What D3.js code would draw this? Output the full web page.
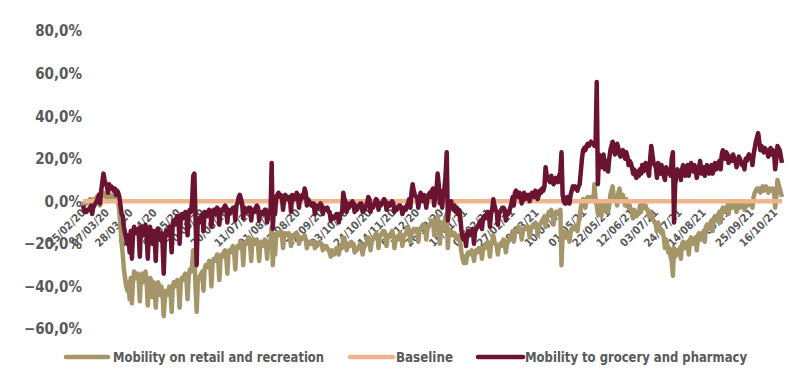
<!DOCTYPE html>
<html>
<head>
<meta charset="utf-8">
<script src="https://cdn.jsdelivr.net/npm/d3@7"></script>
<style>
html,body{margin:0;padding:0;background:#fff;}
svg{display:block;}
text{font-family:"DejaVu Sans Condensed","DejaVu Sans",sans-serif;font-weight:bold;fill:#595959;}
</style>
</head>
<body>
<svg id="chart" width="800" height="383"></svg>
<script>
const startDate = "2020-02-15";
const seriesNames = ["Mobility on retail and recreation", "Baseline", "Mobility to grocery and pharmacy"];
const seriesColors = ["#A59669", "#F0B48C", "#6A1432"];
const yTicks = [-60, -40, -20, 0, 20, 40, 60, 80];
const xTickLabels = ["15/02/20","07/03/20","28/03/20","18/04/20","09/05/20","30/05/20","20/06/20","11/07/20","01/08/20","22/08/20","12/09/20","03/10/20","24/10/20","14/11/20","05/12/20","26/12/20","16/01/21","06/02/21","27/02/21","20/03/21","10/04/21","01/05/21","22/05/21","12/06/21","03/07/21","24/07/21","14/08/21","04/09/21","25/09/21","16/10/21"];

// daily values (%), starting 15/02/2020
const retail = [
0,-2,-1,-1,0,0,1, 1,-5,0,1,1,2,2, 3,-2,2,3,4,3,2, 3,0,2,3,3,2,2,
2,0,1,0,-5,-12,-20, -25,-32,-36,-40,-42,-38,-46, -36,-48,-38,-33,-35,-36,-34, -37,-47,-35,-34,-38,-36,-33,
-38,-49,-40,-36,-37,-45,-38, -40,-50,-42,-38,-40,-44,-40, -44,-54,-46,-42,-44,-43,-40, -42,-52,-40,-38,-40,-38,-37,
-40,-50,-38,-36,-37,-35,-34, -37,-46,-35,-32,-33,-30,-23, -25,-40,-52,-38,-36,-35,-34, -33,-42,-32,-30,-31,-30,-28,
-30,-40,-29,-27,-28,-27,-25, -28,-37,-27,-25,-26,-24,-23, -26,-34,-24,-23,-24,-22,-21, -24,-32,-22,-21,-22,-20,-19,
-21,-30,-20,-19,-20,-18,-17, -20,-28,-19,-18,-20,-19,-18, -21,-28,-20,-19,-21,-20,-18, -20,-27,-19,-20,-19,-12,-30,
-18,-25,-16,-15,-16,-15,-14, -16,-22,-15,-15,-16,-16,-15, -17,-21,-16,-17,-16,-15,-15, -16,-20,-17,-18,-17,-17,-16,
-18,-22,-19,-20,-19,-20,-19, -19,-22,-20,-21,-20,-19,-20, -20,-23,-21,-22,-21,-22,-23, -24,-26,-23,-24,-25,-24,-22,
-22,-25,-22,-21,-22,-17,-18, -19,-23,-21,-20,-21,-19,-20, -20,-24,-22,-23,-22,-21,-20, -21,-25,-22,-21,-20,-19,-17,
-18,-23,-19,-18,-17,-16,-15, -16,-22,-17,-16,-15,-14,-14, -15,-21,-16,-17,-16,-15,-14, -16,-22,-18,-17,-18,-16,-15,
-16,-21,-17,-16,-15,-14,-12, -14,-19,-15,-14,-13,-14,-13, -13,-19,-14,-13,-12,-11,-11, -12,-18,-13,-12,-11,-10,-9,
-9,-16,-11,-10,-7,-10,-20, -10,-14,-11,-10,-7,-6,-22, -13,-16,-14,-15,-16,-15,-17, -16,-18,-17,-20,-24,-27,-29,
-26,-29,-25,-24,-25,-24,-23, -24,-28,-24,-23,-24,-22,-22, -22,-27,-22,-21,-22,-20,-19, -21,-26,-20,-19,-16,-19,-20,
-21,-25,-21,-20,-21,-19,-18, -19,-24,-20,-19,-18,-17,-16, -14,-19,-15,-14,-13,-12,-13, -13,-18,-14,-13,-12,-13,-12,
-12,-17,-13,-12,-11,-12,-10, -11,-16,-12,-11,-10,-9,-8, -7,-12,-8,-6,-5,-6,-4, -6,-11,-7,-6,-5,-6,-5,
-4,-30,-15,-14,-16,-17,-15, -16,-19,-15,-13,-12,-13,-12, -12,-14,-10,-8,-3,0,1, 0,-3,1,2,0,1,2,
2,0,8,1,-2,-6,-1, -3,-7,-2,0,-4,-2,-1, -5,-2,3,5,7,2,0, 1,-2,4,6,2,1,3,
0,-2,1,-1,-3,-2,-4, -5,-8,-4,-6,-7,-5,-6, -2,-5,-1,-1,-3,-2,-4, -4,-7,-5,-6,-8,-9,-10,
-11,-14,-10,-12,-13,-15,-14, -17,-22,-18,-20,-24,-22,-26, -28,-35,-22,-26,-24,-23,-25, -22,-27,-20,-19,-21,-22,-20,
-19,-25,-18,-17,-19,-20,-18, -17,-23,-16,-15,-17,-18,-15, -14,-19,-12,-11,-13,-12,-10, -9,-14,-8,-7,-9,-8,-6,
-5,-10,-4,-3,-5,-4,-3, -2,-6,-1,-2,-3,-2,-1, -2,-5,-2,-1,-3,-2,-1, -1,-4,-1,0,-2,-1,0,
0,-3,2,4,5,6,5, 6,4,6,7,5,6,7, 6,4,5,6,5,6,5, -3,2,10,8,6,4,2
];
const grocery = [
-2,-4,-5,-5,-4,-4,-3, -2,-6,-3,-2,-1,0,1, 3,-1,5,9,13,10,8, 7,4,8,6,7,6,5,
6,3,5,4,2,-2,-6, -7,-12,-15,-18,-20,-16,-24, -14,-27,-16,-12,-14,-15,-13, -15,-26,-12,-14,-16,-13,-11,
-16,-27,-13,-12,-15,-20,-14, -17,-28,-14,-13,-17,-18,-15, -20,-34,-18,-14,-16,-15,-12, -14,-24,-10,-9,-11,-8,-7,
-9,-20,-8,-6,-8,-7,-5, -6,-16,-5,-4,-5,0,12, 13,-8,-30,-8,-10,-9,-7, -6,-14,-5,-6,-7,-5,-4,
-5,-12,-5,-4,-6,-4,-3, -4,-11,-4,-5,-4,-3,-2, -3,-10,-4,-6,-5,-4,-3, -3,-9,-2,-1,2,3,1,
-1,-8,-3,-4,-5,-4,-3, -3,-9,-4,-5,-5,-3,-2, -3,-9,-5,-6,-6,-5,-4, -4,-10,-6,-6,-5,18,-13,
-2,-6,2,3,4,2,3, 2,-4,1,3,2,1,2, 2,-5,3,2,1,2,4, 3,-3,2,1,3,2,6,
4,-2,1,0,-1,-2,-1, -1,-6,-2,-3,-3,-2,-1, -2,-6,-3,-4,-4,-3,-5, -5,-9,-7,-8,-8,-7,-6,
-6,-10,-7,-6,-5,4,1, 0,-5,-2,-3,-1,-2,0, -1,-5,-2,-4,-3,-2,-1, -1,-5,-3,-4,-2,-1,2,
1,-5,-2,-3,-2,0,1, 0,-4,-1,-2,-1,0,1, 0,-4,-2,-1,-2,-1,0, -1,-5,-3,-4,-3,-2,-2,
-3,-6,-4,-3,-4,-2,-1, 1,-3,4,8,5,3,2, 2,-3,1,4,2,0,3, 2,-3,1,3,4,2,5,
6,-2,3,5,13,8,-1, 4,-3,5,6,12,23,-9, -4,-2,0,-3,-4,-2,-5, -3,-6,-4,-8,-14,-17,-18,
-16,-21,-15,-14,-16,-15,-14, -13,-20,-14,-13,-12,-11,-10, -9,-13,-8,-7,-8,-6,-5, -5,-12,-6,-4,1,-2,-4,
-5,-11,-6,-5,-4,-3,-3, -4,-9,-5,-6,-5,-3,-1, 2,-2,4,5,3,2,4, 3,-1,2,4,1,3,2,
3,0,2,4,3,2,5, 4,1,3,5,4,6,5, 7,16,12,10,11,9,12, 10,8,9,11,10,9,12,
14,23,3,0,-1,-1,2, 0,-1,3,5,7,6,7, 6,5,7,8,14,20,24, 25,24,26,27,26,27,28,
27,27,26,28,56,8,22, 20,16,18,22,15,17,19, 14,20,24,26,28,25,22, 24,27,25,22,21,23,24,
22,20,23,21,17,19,18, 16,13,15,12,11,14,12, 15,13,17,14,16,18,15, 14,12,20,26,22,18,17,
16,11,18,15,13,17,14, 12,10,16,13,15,14,12, 20,23,-10,8,12,15,13, 14,10,15,17,13,12,16,
17,12,16,18,15,14,17, 15,11,14,16,19,13,15, 16,12,15,17,14,13,15, 17,13,16,18,15,16,18,
19,15,22,24,21,20,23, 22,18,21,20,19,22,20, 19,16,18,21,20,18,17, 18,15,20,19,21,22,20,
21,17,22,25,28,30,32, 28,24,26,25,23,25,24, 23,21,24,25,22,24,23, 15,20,26,25,24,21,18
];

const parseISO = d3.timeParse("%Y-%m-%d");
const parseTick = d3.timeParse("%d/%m/%y");
const start = parseISO(startDate);
const n = Math.min(retail.length, grocery.length);
const dates = d3.range(n).map(i => d3.timeDay.offset(start, i));
const baseline = dates.map(() => 0);

const svg = d3.select("#chart");
const x = d3.scaleTime().domain([dates[0], dates[n - 1]]).range([83, 782]);
const y = d3.scaleLinear().domain([-60, 80]).range([329, 31]);

// y axis labels
svg.append("g").selectAll("text").data(yTicks).join("text")
  .attr("x", 82).attr("y", d => y(d)).attr("dy", "0.36em")
  .attr("text-anchor", "end").style("font-size", "15px")
  .text(d => d3.format(".1f")(d).replace(".", ",") + "%");

// x axis labels (at zero line)
const y0 = y(0);
svg.append("g").selectAll("text").data(xTickLabels).join("text")
  .attr("transform", d => `translate(${x(parseTick(d)) + 3},${y0 + 12}) rotate(-45)`)
  .attr("text-anchor", "end").style("font-size", "11px")
  .text(d => d);

const line = d3.line().x((d, i) => x(dates[i])).y(d => y(d)).curve(d3.curveLinear);
const seriesData = [retail.slice(0, n), baseline, grocery.slice(0, n)];
seriesData.forEach((s, k) => {
  svg.append("path").datum(s)
    .attr("fill", "none").attr("stroke", seriesColors[k])
    .attr("stroke-width", 4.5).attr("stroke-linejoin", "round")
    .attr("d", line);
});

// legend
const legendLine = [[66, 108], [350, 393], [478, 523]];
const legendText = [[113, 211], [396, 57], [525, 222]];
const lg = svg.append("g");
seriesNames.forEach((name, k) => {
  lg.append("line").attr("x1", legendLine[k][0]).attr("x2", legendLine[k][1])
    .attr("y1", 357).attr("y2", 357)
    .attr("stroke", seriesColors[k]).attr("stroke-width", 4.5).attr("stroke-linecap", "round");
  lg.append("text").attr("x", legendText[k][0]).attr("y", 357).attr("dy", "0.36em")
    .attr("textLength", legendText[k][1]).attr("lengthAdjust", "spacingAndGlyphs")
    .style("font-size", "13.5px").text(name);
});
</script>
</body>
</html>
